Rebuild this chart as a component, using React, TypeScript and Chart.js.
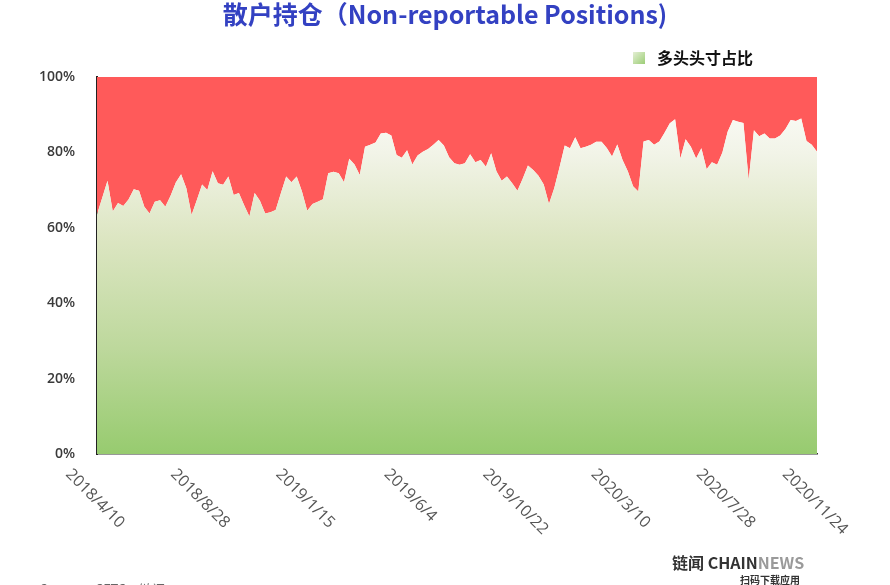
import React, { useEffect, useRef } from 'react';
import { Chart, registerables } from 'chart.js';

Chart.register(...registerables);

// ---- data ----
const START = { y: 2018, m: 4, d: 10 };
const WEEKS = 138;
const categories: string[] = (() => {
  const out: string[] = [];
  const base = new Date(START.y, START.m - 1, START.d, 12);
  for (let i = 0; i < WEEKS; i++) {
    const dt = new Date(base.getTime() + i * 7 * 86400000);
    out.push(`${dt.getFullYear()}/${dt.getMonth() + 1}/${dt.getDate()}`);
  }
  return out;
})();

// share of long positions (%), weekly
const longShare = [
  63.5, 68, 72.5, 64.3, 66.6, 65.8, 67.5, 70.2, 69.8, 65.6,
  63.8, 66.9, 67.3, 65.6, 68.5, 72, 74.2, 70.5, 63.4, 67.4,
  71.5, 70, 75, 71.8, 71.4, 73.6, 68.7, 69.2, 66, 63,
  69.2, 67.2, 63.8, 64.1, 64.7, 69.2, 73.6, 72.1, 73.6, 69.6,
  64.5, 66.3, 66.9, 67.6, 74.5, 74.9, 74.5, 72.1, 78.3, 76.8,
  74, 81.5, 82, 82.6, 85, 85.2, 84.5, 79.3, 78.6, 80.6,
  76.8, 79.2, 80.2, 80.9, 82, 83.3, 81.8, 78.7, 77.1, 76.7,
  77.1, 79.5, 77.4, 78, 76.2, 79.8, 75, 72.5, 73.6, 71.8,
  69.8, 73, 76.5, 75.3, 73.8, 71.5, 66.3, 70.5, 76, 81.8,
  81.1, 84, 81.1, 81.5, 82, 82.8, 82.8, 81.2, 78.9, 82.1,
  78, 75, 71, 69.6, 82.9, 83.3, 82, 82.9, 85.2, 87.7,
  88.8, 78.4, 83.5, 81.5, 78.4, 81.1, 75.5, 77.4, 76.7, 80,
  85.5, 88.6, 88.1, 87.8, 72.7, 85.9, 84.3, 85, 83.7, 83.7,
  84.5, 86.2, 88.6, 88.3, 89, 83, 82, 80.2,
];

const xTickLabels = [
  '2018/4/10', '2018/8/28', '2019/1/15', '2019/6/4',
  '2019/10/22', '2020/3/10', '2020/7/28', '2020/11/24',
];
const yTicks = [0, 20, 40, 60, 80, 100];

const TITLE = '散户持仓（Non-reportable Positions)';
const LEGEND_LABEL = '多头头寸占比';
const SOURCE = 'Source：CFTC，链闻';

function greenGradient(ctx: CanvasRenderingContext2D, top: number, bottom: number) {
  const g = ctx.createLinearGradient(0, top, 0, bottom);
  g.addColorStop(0, '#ffffff');
  g.addColorStop(0.2, '#f2f4e8');
  g.addColorStop(0.42, '#dde6c3');
  g.addColorStop(0.72, '#bdd89c');
  g.addColorStop(1, '#97cb6f');
  return g;
}

const decorPlugin = {
  id: 'decor',
  afterDraw(chart: any) {
    const ctx: CanvasRenderingContext2D = chart.ctx;
    const xs = chart.scales.x;
    const area = chart.chartArea;
    // title
    ctx.save();
    ctx.font = 'bold 25px "Noto Sans CJK SC", sans-serif';
    ctx.fillStyle = '#3341c2';
    ctx.textAlign = 'center';
    ctx.textBaseline = 'middle';
    ctx.fillText(TITLE, 445, 14);
    ctx.restore();

    // legend
    ctx.save();
    const lg = ctx.createLinearGradient(633, 52, 645, 64);
    lg.addColorStop(0, '#e4efd4');
    lg.addColorStop(1, '#9ccd76');
    ctx.fillStyle = lg;
    ctx.fillRect(633, 52, 12, 12);
    ctx.font = 'bold 16px "Noto Sans CJK SC", sans-serif';
    ctx.fillStyle = '#111';
    ctx.textAlign = 'left';
    ctx.textBaseline = 'middle';
    ctx.fillText(LEGEND_LABEL, 657, 58);
    ctx.restore();

    // rotated x labels
    ctx.save();
    ctx.font = '16px "Open Sans", sans-serif';
    ctx.fillStyle = '#555';
    ctx.textAlign = 'center';
    ctx.textBaseline = 'middle';
    const s = Math.SQRT1_2;
    xTickLabels.forEach((lbl) => {
      const i = categories.indexOf(lbl);
      if (i < 0) return;
      const x = xs.getPixelForValue(i);
      const w = ctx.measureText(lbl).width;
      const h = 11;
      const cy = area.bottom + 14 + ((w + h) * s) / 2;
      ctx.save();
      ctx.translate(x - 2, cy);
      ctx.rotate(Math.PI / 4);
      ctx.fillText(lbl, 0, 0);
      ctx.restore();
    });
    ctx.restore();

    // brand + source
    ctx.save();
    ctx.textBaseline = 'middle';
    ctx.textAlign = 'left';
    ctx.font = 'bold 16px "Noto Sans CJK SC", sans-serif';
    ctx.fillStyle = '#333';
    const a = '链闻 CHAIN';
    ctx.fillText(a, 672, 563);
    const aw = ctx.measureText(a).width;
    ctx.fillStyle = '#9a9a9a';
    ctx.fillText('NEWS', 672 + aw, 563);
    ctx.font = 'bold 10px "Noto Sans CJK SC", sans-serif';
    ctx.fillStyle = '#333';
    ctx.textAlign = 'right';
    ctx.fillText('扫码下载应用', 800, 580);
    ctx.textAlign = 'left';
    ctx.font = '13px "Noto Sans CJK SC", sans-serif';
    ctx.fillStyle = '#666';
    ctx.fillText(SOURCE, 40, 589);
    ctx.restore();
  },
};

export default function App() {
  const ref = useRef<HTMLCanvasElement | null>(null);
  useEffect(() => {
    if (!ref.current) return;
    const chart = new Chart(ref.current, {
      type: 'line',
      data: {
        labels: categories,
        datasets: [
          {
            label: LEGEND_LABEL,
            data: longShare,
            fill: 'origin',
            borderWidth: 0,
            pointRadius: 0,
            tension: 0,
            backgroundColor: (c: any) => {
              const ca = c.chart.chartArea;
              if (!ca) return '#c8e0a8';
              return greenGradient(c.chart.ctx, ca.top, ca.bottom);
            },
          },
          {
            label: '空头头寸占比',
            data: longShare,
            fill: 'end',
            borderWidth: 0,
            pointRadius: 0,
            tension: 0,
            backgroundColor: '#ff5a5a',
          },
        ],
      },
      options: {
        responsive: false,
        animation: false,
        layout: { padding: { top: 77, right: 73, left: 0, bottom: 0 } },
        plugins: {
          legend: { display: false },
          title: { display: false },
          tooltip: { enabled: false },
        },
        scales: {
          x: {
            type: 'category',
            offset: false,
            z: 1,
            grid: { display: false, drawTicks: false },
            border: { display: true, color: '#333', width: 1.5 },
            ticks: { display: false },
            afterFit: (sc: any) => { sc.height = 131; },
          },
          y: {
            min: 0,
            max: 100,
            z: 1,
            afterBuildTicks: (sc: any) => { sc.ticks = yTicks.map((v) => ({ value: v })); },
            ticks: {
              padding: 22,
              color: '#3a3a3a',
              font: { family: '"Open Sans", sans-serif', size: 14, weight: '600' },
              callback: (v: any) => `${v}%`,
            },
            grid: { color: 'rgba(255,255,255,0.4)', drawTicks: false, lineWidth: 1 },
            border: { display: true, color: '#222', width: 2 },
            afterFit: (sc: any) => { sc.width = 97; },
          },
        },
      },
      plugins: [decorPlugin],
    });
    return () => chart.destroy();
  }, []);
  return (
    <div style={{ position: 'absolute', left: 0, top: 0, width: 890, height: 585, background: '#fff' }}>
      <canvas ref={ref} width={890} height={585} />
    </div>
  );
}
